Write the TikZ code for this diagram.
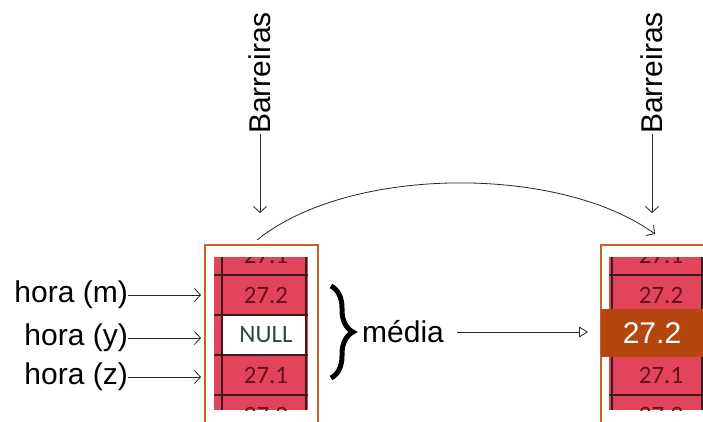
\documentclass[tikz,border=0pt]{standalone}
\usepackage{fontspec}
\setmainfont{Liberation Sans}
\newfontfamily\cellfont{Carlito}
\usetikzlibrary{arrows.meta,decorations.pathreplacing}

\definecolor{cellred}{HTML}{E2445C}
\definecolor{cellline}{HTML}{3B1B1E}
\definecolor{celltext}{HTML}{6A0E1C}
\definecolor{nulltext}{HTML}{2F463D}
\definecolor{boxorange}{HTML}{C8622A}
\definecolor{meanfill}{HTML}{B5470E}

\tikzset{
  lbl/.style={font=\fontsize{30}{36}\selectfont, inner sep=0pt},
  cell/.style={font=\cellfont\fontsize{25}{30}\selectfont, text=celltext, inner sep=0pt},
  thinarrow/.style={draw=black!85, line width=0.8pt, -{Straight Barb[length=6pt,width=13pt]}},
  gridline/.style={cellline, line width=1.5pt},
}

\begin{document}
\begin{tikzpicture}[x=1pt,y=-1pt]
    \useasboundingbox (0,0) rectangle (703,421);
    \clip (0,0) rectangle (703,421);

    % coluna da esquerda
    \draw[boxorange, line width=1.2pt] (205,460) -- (205,245) -- (318,245) -- (318,460);
    \begin{scope}
        \clip (214,257) rectangle (308,410);
        \fill[cellred] (214,257) rectangle (308,410);
        \fill[white] (222,315) rectangle (306,355);
        \foreach \y in {275,315,355,395}
            \draw[gridline] (214,\y) -- (308,\y);
        \draw[gridline] (222,257) -- (222,410);
        \draw[gridline] (306,257) -- (306,410);
        \node[cell] (la) at (266,255) {27.1};
        \node[cell] (lb) at (266,295) {27.2};
        \node[cell, text=nulltext] (lnull) at (266,335) {NULL};
        \node[cell] (lc) at (266,375) {27.1};
        \node[cell] (ld) at (266,415) {27.2};
    \end{scope}

    % coluna da direita
    \draw[boxorange, line width=1.2pt] (601,460) -- (601,245) -- (720,245);
    \begin{scope}
        \clip (609,257) rectangle (703,410);
        \fill[cellred] (609,257) rectangle (703,410);
        \foreach \y in {275,315,355,395}
            \draw[gridline] (609,\y) -- (703,\y);
        \draw[gridline] (612,257) -- (612,410);
        \draw[gridline] (702,257) -- (702,410);
        \node[cell] (ra) at (661,255) {27.1};
        \node[cell] (rb) at (661,295) {27.2};
        \node[cell] (rc) at (661,375) {27.1};
        \node[cell] (rd) at (661,415) {27.2};
    \end{scope}
    \node[fill=meanfill, text=white, font=\fontsize{30}{36}\selectfont,
          minimum width=102pt, minimum height=48pt, inner sep=0pt] (mean) at (652,333) {27.2};

    % horas
    \node[lbl, anchor=east] (horam) at (128,295) {hora (m)};
    \node[lbl, anchor=east] (horay) at (128,338) {hora (y)};
    \node[lbl, anchor=east] (horaz) at (128,377) {hora (z)};
    \coordinate (inm) at (201,295);
    \coordinate (iny) at (201,338);
    \coordinate (inz) at (201,377);
    \draw[thinarrow] (horam) -- (inm);
    \draw[thinarrow] (horay) -- (iny);
    \draw[thinarrow] (horaz) -- (inz);

    % barreiras
    \node[lbl, rotate=90, anchor=west] (barl) at (260,134) {Barreiras};
    \node[lbl, rotate=90, anchor=west] (barr) at (652,134) {Barreiras};
    \coordinate (barltip) at (260,213);
    \coordinate (barrtip) at (652,213);
    \draw[thinarrow] (barl) -- (barltip);
    \draw[thinarrow] (barr) -- (barrtip);

    % arco entre as colunas
    \coordinate (arcs) at (257,240);
    \coordinate (arce) at (655,234);
    \draw[thinarrow] (arcs) .. controls (350,165) and (560,165) .. (arce);

    % media
    \draw[line width=5pt, decorate, decoration={brace, amplitude=22pt}] (331,286) -- (331,378);
    \node[lbl, anchor=base west] (media) at (362,342) {média};
    \coordinate (meanin) at (588,332);
    \draw[draw=black!85, line width=0.8pt, -{Triangle[open, length=9pt, width=11pt]}]
        ([xshift=13pt]media.east |- meanin) -- (meanin);
\end{tikzpicture}
\end{document}
